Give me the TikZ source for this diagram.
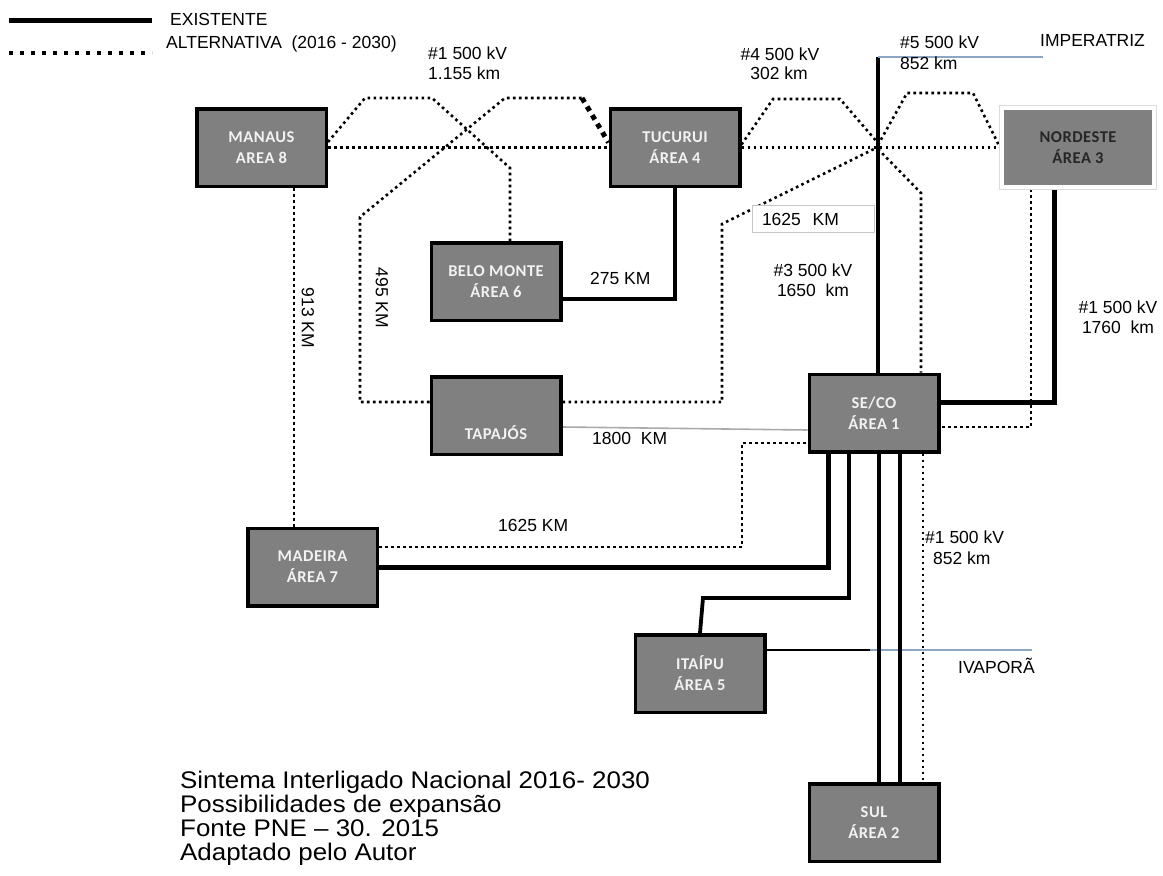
\documentclass[tikz,border=0pt]{standalone}
\usepackage{fontspec}
\setmainfont{Liberation Sans}
\newfontfamily\boxfont[LetterSpace=3]{Carlito}
\newfontfamily\creditfont[FakeStretch=1.08]{Liberation Sans}
\definecolor{boxgray}{RGB}{128,128,128}
\definecolor{boxtxt}{RGB}{242,242,242}
\definecolor{bluegray}{RGB}{140,166,196}
\definecolor{thingray}{RGB}{170,170,170}
\pgfdeclarelayer{back}
\pgfdeclarelayer{bg}
\pgfsetlayers{back,bg,main}
\tikzset{
  box/.style={rectangle, draw=black, line width=3.5pt, fill=boxgray,
    minimum width=129.5pt, minimum height=77.5pt, inner sep=0pt,
    font=\boxfont\bfseries\fontsize{16.5}{21}\selectfont, text=boxtxt, align=center},
  boxlbl/.style={inner sep=0pt, font=\boxfont\bfseries\fontsize{16.5}{21}\selectfont, text=boxtxt},
  nord/.style={rectangle, draw=white, line width=4pt, fill=boxgray,
    preaction={draw=black!14, line width=6pt},
    minimum width=152pt, minimum height=79pt, inner sep=0pt,
    font=\boxfont\bfseries\fontsize{16.5}{21}\selectfont, text=black!85, align=center},
  lbl/.style={inner sep=0pt, font=\fontsize{17.5}{21}\selectfont, text height=12.5pt, text depth=0pt},
  credit/.style={inner sep=0pt, anchor=west, font=\creditfont\fontsize{24}{24}\selectfont, text height=17pt, text depth=0pt},
  alt/.style={line width=2.6pt, dash pattern=on 2.6pt off 3.4pt},
  altthick/.style={line width=5pt, dash pattern=on 5pt off 5pt},
  legdot/.style={line width=4pt, dash pattern=on 4pt off 7pt},
  exist/.style={line width=3.8pt},
  existthick/.style={line width=5pt},
  existthin/.style={line width=2.6pt},
  blueline/.style={line width=1.5pt, draw=bluegray},
  grayline/.style={line width=1.6pt, draw=thingray},
}
\begin{document}
\begin{tikzpicture}[x=1pt,y=-1pt]
\useasboundingbox (0,0) rectangle (1163,876);
\begin{pgfonlayer}{back}
\fill[white] (0,0) rectangle (1163,876);
\end{pgfonlayer}

% ---------- boxes ----------
\node[box] (manaus) at (261.5,147.5) {MANAUS\\AREA 8};
\node[box] (tucurui) at (675,147.5) {TUCURUI\\ÁREA 4};
\node[nord] (nordeste) at (1078,147.5) {NORDESTE\\ÁREA 3};
\node[box] (belo) at (496,281.5) {BELO MONTE\\ÁREA 6};
\node[box] (tapajos) at (496,415.5) {};
\node[boxlbl] (tapajostxt) at (496,433) {TAPAJÓS};
\node[box] (seco) at (874,413) {SE/CO\\ÁREA 1};
\node[box] (madeira) at (312.5,567) {MADEIRA\\ÁREA 7};
\node[box] (itaipu) at (700,673.5) {ITAÍPU\\ÁREA 5};
\node[box] (sul) at (874,822.5) {SUL\\ÁREA 2};

% ---------- waypoints ----------
\coordinate (x0) at (878,147);
\coordinate (a1) at (365,98);  \coordinate (a2) at (432,98);  \coordinate (a3) at (510,168);
\coordinate (b1) at (360,402); \coordinate (b2) at (360,217); \coordinate (b3) at (505,98); \coordinate (b4) at (582,98);
\coordinate (c1) at (773,99);  \coordinate (c2) at (840,99);
\coordinate (d1) at (907,93);  \coordinate (d2) at (973,93);
\coordinate (e1) at (921,193);
\coordinate (f1) at (722,402); \coordinate (f2) at (722,224);
\coordinate (h1) at (294,300);
\coordinate (m1) at (742,547); \coordinate (m2) at (742,443);
\coordinate (n1) at (1031,427); \coordinate (n2) at (1054,402);
\coordinate (s1) at (879,600); \coordinate (s2) at (900,600); \coordinate (s3) at (923,600);
\coordinate (p5) at (878,57);  \coordinate (imp) at (1043,57);
\coordinate (t1) at (675,299);
\coordinate (m3) at (828,567);
\coordinate (i1) at (703,598); \coordinate (i2) at (849,598);
\coordinate (iv1) at (870,650); \coordinate (iv2) at (1032,650);
\coordinate (lg1) at (9,20);  \coordinate (lg2) at (152,20);
\coordinate (lg3) at (9,53);  \coordinate (lg4) at (152,53);

\begin{pgfonlayer}{bg}
% ---------- alternative (dotted) ----------
\draw[alt] ([yshift=5.5pt]manaus.east) -- (a1) -- (a2) -- (a3) -- (a3 |- belo.north);
\draw[alt] (tapajos.west |- b1) -- (b1) -- (b2) -- (b3) -- (b4);
\draw[altthick] (b4) -- ([yshift=5pt]tucurui.west);
\draw[alt] ([yshift=3pt]tucurui.east) -- (c1) -- (c2) -- ([yshift=4pt]x0);
\draw[alt] ([yshift=2pt]x0) -- (d1) -- (d2) -- (nordeste.west);
\draw[alt] ([yshift=-2pt]x0) -- (e1) -- (e1 |- seco.north);
\draw[alt] (tapajos.east |- f1) -- (f1) -- (f2) -- ([xshift=-2pt,yshift=-1pt]x0);
\draw[alt] (manaus.east) -- (tucurui.west);
\draw[alt] (tucurui.east) -- (nordeste.west);
\draw[alt] (manaus.south -| h1) -- (madeira.north -| h1);
\draw[alt] (madeira.east |- m1) -- (m1) -- (m2) -- (seco.west |- m2);
\draw[alt] (nordeste.south -| n1) -- (n1) -- (seco.east |- n1);
\draw[alt] (seco.south -| s3) -- (sul.north -| s3);

% ---------- existing (solid) ----------
\draw[exist] (seco.north -| p5) -- (p5);
\draw[blueline] (p5) -- (imp);
\draw[existthick] (nordeste.south -| n2) -- (n2) -- (seco.east |- n2);
\draw[exist] (tucurui.south) -- (t1) -- (belo.east |- t1);
\draw[existthick] (madeira.east |- m3) -- (m3) -- (seco.south -| m3);
\draw[exist] (itaipu.north) -- (i1) -- (i2) -- (seco.south -| i2);
\draw[existthin] (itaipu.east |- iv1) -- (iv1);
\draw[blueline] (iv1) -- (iv2);
\draw[exist] (seco.south -| s1) -- (sul.north -| s1);
\draw[exist] (seco.south -| s2) -- (sul.north -| s2);
\draw[grayline] ([yshift=-11.5pt]tapajos.east) -- ([yshift=-17pt]seco.west);
\end{pgfonlayer}

% ---------- legend ----------
\draw[existthick] (lg1) -- (lg2);
\draw[legdot] (lg3) -- (lg4);
\node[lbl, anchor=west] (lexist) at (170,19) {EXISTENTE};
\node[lbl, anchor=west] (lalt) at (166,42) {ALTERNATIVA\ \ (2016 - 2030)};

% ---------- labels ----------
\node[lbl, anchor=west] (k1a) at (428,53) {\#1 500 kV};
\node[lbl, anchor=west] (k1b) at (428,73) {1.155 km};
\node[lbl] (k4a) at (780,54) {\#4 500 kV};
\node[lbl] (k4b) at (779,73) {302 km};
\node[lbl, anchor=west] (k5a) at (900,42) {\#5 500 kV};
\node[lbl, anchor=west] (k5b) at (900,63) {852 km};
\node[lbl, anchor=west] (kimp) at (1040,40) {IMPERATRIZ};
\node[draw=black!22, line width=1pt, fill=white, minimum width=122pt, minimum height=27pt,
      inner xsep=10pt, text width=102pt, align=left, font=\fontsize{17.5}{21}\selectfont]
      (box1625) at (813,219) {1625\ \ KM};
\node[lbl] (k3a) at (813,270) {\#3 500 kV};
\node[lbl] (k3b) at (813,290) {1650\ \ km};
\node[lbl] (kna) at (1118,307) {\#1 500 kV};
\node[lbl] (knb) at (1118,327) {1760\ \ km};
\node[lbl, anchor=west] (ksa) at (925,537) {\#1 500 kV};
\node[lbl, anchor=west] (ksb) at (933,558) {852 km};
\node[lbl, anchor=west] (k275) at (590,278) {275 KM};
\node[lbl, anchor=west] (k1800) at (592,438) {1800\ \ KM};
\node[lbl, anchor=west] (k1625) at (498,525) {1625 KM};
\node[lbl, anchor=west] (kiva) at (958,667) {IVAPORÃ};
\node[lbl, rotate=-90] (k913) at (308,318) {913 KM};
\node[lbl, rotate=-90] (k495) at (382,298) {495 KM};

% ---------- credits ----------
\node[credit] (cr1) at (180,780) {Sintema Interligado Nacional 2016- 2030};
\node[credit] (cr2) at (180,804) {Possibilidades de expansão};
\node[credit] (cr3) at (180,828) {Fonte PNE – 30. 2015};
\node[credit] (cr4) at (180,852) {Adaptado pelo Autor};
\end{tikzpicture}
\end{document}
